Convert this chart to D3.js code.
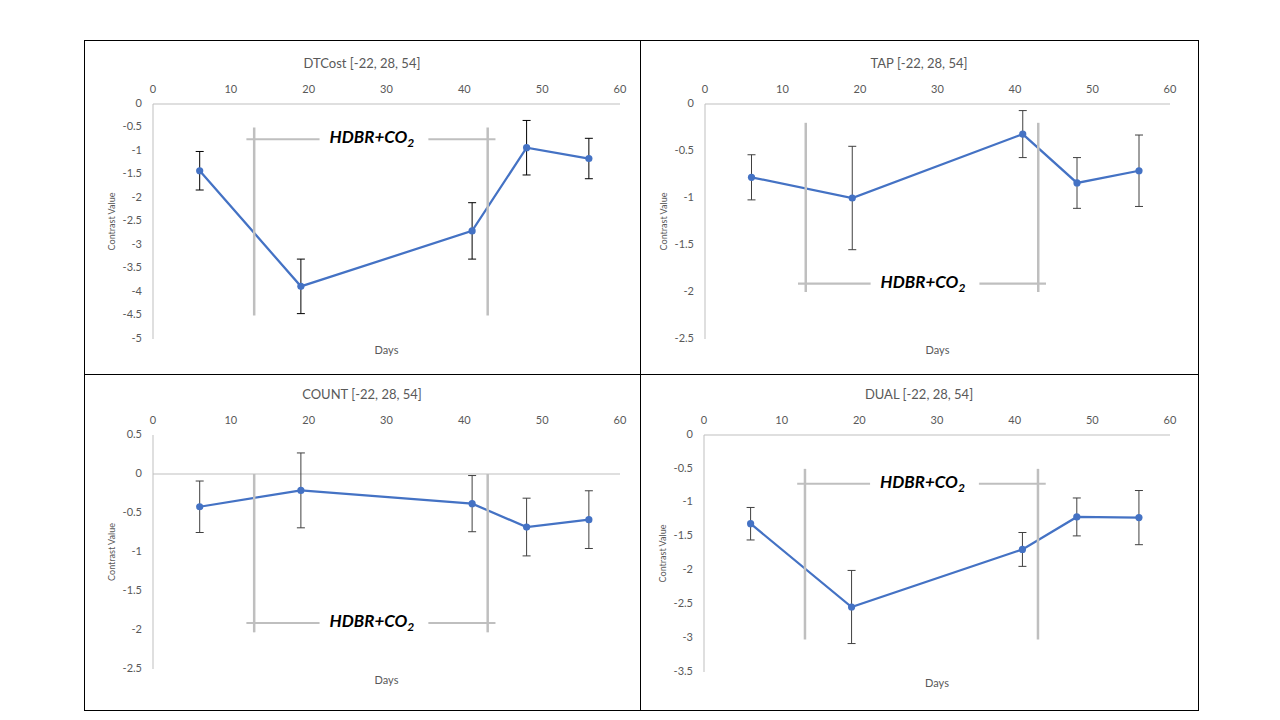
<!DOCTYPE html>
<html><head><meta charset="utf-8">
<script src="https://cdn.jsdelivr.net/npm/d3@7"></script>
<style>
body{margin:0;background:#fff;}
svg{display:block;}
text{font-family:Lato,"Open Sans",sans-serif;}
</style>
</head><body>
<svg id="chart" width="1280" height="720"></svg>
<script>
// ---------- data ----------
const days = [6, 19, 41, 48, 56];
const panelTitles = ["DTCost [-22, 28, 54]", "TAP [-22, 28, 54]", "COUNT [-22, 28, 54]", "DUAL [-22, 28, 54]"];
const dtcostValues = [-1.42, -3.88, -2.70, -0.93, -1.16];
const dtcostErrors = [0.41, 0.58, 0.60, 0.58, 0.43];
const tapValues = [-0.78, -1.00, -0.32, -0.84, -0.71];
const tapErrors = [0.24, 0.55, 0.25, 0.27, 0.38];
const countValues = [-0.42, -0.21, -0.38, -0.68, -0.585];
const countErrors = [0.33, 0.48, 0.36, 0.37, 0.37];
const dualValues = [-1.31, -2.54, -1.69, -1.21, -1.22];
const dualErrors = [0.24, 0.54, 0.25, 0.28, 0.40];
const xTicks = [0, 10, 20, 30, 40, 50, 60];
const dtcostTicks = [0, -0.5, -1, -1.5, -2, -2.5, -3, -3.5, -4, -4.5, -5];
const tapTicks = [0, -0.5, -1, -1.5, -2, -2.5];
const countTicks = [0.5, 0, -0.5, -1, -1.5, -2, -2.5];
const dualTicks = [0, -0.5, -1, -1.5, -2, -2.5, -3, -3.5];
const xAxisTitle = "Days";
const yAxisTitle = "Contrast Value";
// HDBR+CO2 annotation (days and contrast values)
const hdbrDays = [13, 43];
const bracketDays = [12, 44];
const dtcostHdbrRange = [-0.5, -4.5], dtcostBracket = -0.75;
const tapHdbrRange = [-0.2, -2.0], tapBracket = -1.91;
const countHdbrRange = [0, -2.03], countBracket = -1.91;
const dualHdbrRange = [-0.5, -3.02], dualBracket = -0.72;

// ---------- layout ----------
const svg = d3.select("#chart");
const panels = [
  {title: panelTitles[0], values: dtcostValues, errors: dtcostErrors, ticks: dtcostTicks, hdbr: dtcostHdbrRange, bracket: dtcostBracket,
   box: [84, 40, 640, 374], plot: [153, 104, 620, 339], errColor: "#000"},
  {title: panelTitles[1], values: tapValues, errors: tapErrors, ticks: tapTicks, hdbr: tapHdbrRange, bracket: tapBracket,
   box: [640, 40, 1198, 374], plot: [705, 104, 1170, 339], errColor: "#404040"},
  {title: panelTitles[2], values: countValues, errors: countErrors, ticks: countTicks, hdbr: countHdbrRange, bracket: countBracket,
   box: [84, 374, 640, 710], plot: [153, 435, 620, 669], errColor: "#404040"},
  {title: panelTitles[3], values: dualValues, errors: dualErrors, ticks: dualTicks, hdbr: dualHdbrRange, bracket: dualBracket,
   box: [640, 374, 1198, 710], plot: [704, 435, 1170, 672], errColor: "#404040"}
];

const gray = "#595959";
const axisColor = "#BFBFBF";
const blue = "#4472C4";

panels.forEach(p => {
  const [bx0, by0, bx1, by1] = p.box;
  const [px0, py0, px1, py1] = p.plot;
  const x = d3.scaleLinear().domain([0, 60]).range([px0, px1]);
  const y = d3.scaleLinear().domain([d3.max(p.ticks), d3.min(p.ticks)]).range([py0, py1]);
  const g = svg.append("g");

  // box
  g.append("rect").attr("x", bx0 + 0.5).attr("y", by0 + 0.5)
    .attr("width", bx1 - bx0).attr("height", by1 - by0)
    .attr("fill", "none").attr("stroke", "#000").attr("stroke-width", 1);

  // title
  g.append("text").attr("x", (bx0 + bx1) / 2).attr("y", py0 - 39)
    .attr("text-anchor", "middle").attr("dominant-baseline", "middle")
    .attr("font-size", 13).attr("fill", gray).text(p.title);

  // x tick labels (top)
  g.selectAll(".xt").data(xTicks).enter().append("text")
    .attr("x", d => x(d)).attr("y", py0 - 14)
    .attr("text-anchor", "middle").attr("dominant-baseline", "middle")
    .attr("font-size", 11).attr("fill", gray).text(d => d);

  // y tick labels
  g.selectAll(".yt").data(p.ticks).enter().append("text")
    .attr("x", px0 - 11).attr("y", d => y(d))
    .attr("text-anchor", "end").attr("dominant-baseline", "middle")
    .attr("font-size", 11).attr("fill", gray).text(d => String(d));

  // axes lines
  g.append("line").attr("x1", x(0)).attr("x2", x(60)).attr("y1", y(0)).attr("y2", y(0))
    .attr("stroke", axisColor).attr("stroke-width", 1);
  g.append("line").attr("x1", x(0)).attr("x2", x(0)).attr("y1", py0).attr("y2", py1)
    .attr("stroke", axisColor).attr("stroke-width", 1);

  // axis titles
  g.append("text").attr("x", (px0 + px1) / 2).attr("y", py1 + 12)
    .attr("text-anchor", "middle").attr("dominant-baseline", "middle")
    .attr("font-size", 11).attr("fill", gray).text(xAxisTitle);
  g.append("text").attr("transform", `translate(${px0 - 40},${(py0 + py1) / 2}) rotate(-90)`)
    .attr("text-anchor", "middle").attr("dominant-baseline", "middle")
    .attr("font-size", 9).attr("fill", gray).text(yAxisTitle);

  const pts = days.map((d, i) => ({d, v: p.values[i], e: p.errors[i]}));

  // error bars
  const eb = g.selectAll(".eb").data(pts).enter().append("g");
  eb.append("line").attr("x1", d => x(d.d)).attr("x2", d => x(d.d))
    .attr("y1", d => y(d.v + d.e)).attr("y2", d => y(d.v - d.e))
    .attr("stroke", p.errColor).attr("stroke-width", 1);
  [1, -1].forEach(s => {
    eb.append("line").attr("x1", d => x(d.d) - 4).attr("x2", d => x(d.d) + 4)
      .attr("y1", d => y(d.v + s * d.e)).attr("y2", d => y(d.v + s * d.e))
      .attr("stroke", p.errColor).attr("stroke-width", 1);
  });

  // series line
  g.append("path").datum(pts)
    .attr("d", d3.line().x(d => x(d.d)).y(d => y(d.v)))
    .attr("fill", "none").attr("stroke", blue).attr("stroke-width", 2.25);
  g.selectAll(".pt").data(pts).enter().append("circle")
    .attr("cx", d => x(d.d)).attr("cy", d => y(d.v)).attr("r", 3.6)
    .attr("fill", blue);

  // HDBR annotation
  hdbrDays.forEach(dd => {
    g.append("line").attr("x1", x(dd)).attr("x2", x(dd))
      .attr("y1", y(p.hdbr[0])).attr("y2", y(p.hdbr[1]))
      .attr("stroke", axisColor).attr("stroke-width", 2.5);
  });
  g.append("line").attr("x1", x(bracketDays[0])).attr("x2", x(bracketDays[1]))
    .attr("y1", y(p.bracket)).attr("y2", y(p.bracket))
    .attr("stroke", axisColor).attr("stroke-width", 2.2);
  const cx = x((bracketDays[0] + bracketDays[1]) / 2) + 1;
  const bg = g.append("rect").attr("fill", "#fff");
  const t = g.append("text").attr("x", cx).attr("y", y(p.bracket))
    .attr("text-anchor", "middle").attr("dominant-baseline", "middle")
    .attr("font-size", 17).attr("font-weight", "bold").attr("font-style", "italic").attr("fill", "#000");
  t.append("tspan").text("HDBR+CO");
  t.append("tspan").attr("font-size", 12).attr("dy", 5).text("2");
  const bb = t.node().getBBox();
  bg.attr("x", bb.x - 10).attr("y", bb.y).attr("width", bb.width + 24).attr("height", bb.height);
});
</script>
</body></html>
